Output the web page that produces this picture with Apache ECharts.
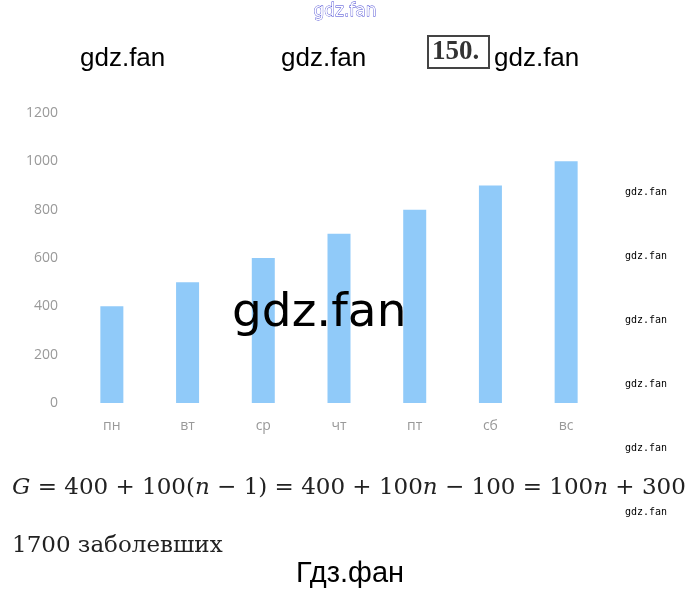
<!DOCTYPE html>
<html><head><meta charset="utf-8">
<script src="https://cdn.jsdelivr.net/npm/echarts@6/dist/echarts.min.js"></script>
<style>html,body{margin:0;padding:0;background:#fff}#c{width:692px;height:590px}</style>
</head><body><div id="c"></div>
<script>
var categories = ['пн','вт','ср','чт','пт','сб','вс'];
var values = [400, 500, 600, 700, 800, 900, 1000];
var yTicks = [0, 200, 400, 600, 800, 1000, 1200];

var chart = echarts.init(document.getElementById('c'), null, {renderer:'canvas'});
var sideMarks = [193, 257, 321, 385, 449, 513];
var graphics = [
  {type:'text', left:313, top:3, style:{text:'gdz.fan', font:'17px "DejaVu Sans"', fill:'#fff', stroke:'#3b3bd0', lineWidth:0.8}},
  {type:'text', left:80, top:46, style:{text:'gdz.fan', font:'26px "Liberation Sans"', fill:'#000'}},
  {type:'text', left:281, top:46, style:{text:'gdz.fan', font:'26px "Liberation Sans"', fill:'#000'}},
  {type:'rect', shape:{x:428, y:36, width:61, height:32}, style:{fill:'#fff', stroke:'#444', lineWidth:2}},
  {type:'text', left:432, top:39, style:{text:'150.', font:'bold 27px "Liberation Serif"', fill:'#333'}},
  {type:'text', left:494, top:46, style:{text:'gdz.fan', font:'26px "Liberation Sans"', fill:'#000'}},
  {type:'text', left:232, top:290, z:100, style:{text:'gdz.fan', font:'47px "DejaVu Sans"', fill:'#000'}},
  {type:'text', left:12, top:477, style:{
    text:'{i|G} = 400 + 100({i|n} − 1) = 400 + 100{i|n} − 100 = 100{i|n} + 300',
    font:'23px "DejaVu Serif"', fill:'#222',
    rich:{i:{fontStyle:'italic', fontFamily:'DejaVu Serif', fontSize:23, fill:'#222'}}}},
  {type:'text', left:12, top:535, style:{text:'1700 заболевших', font:'23px "DejaVu Serif"', fill:'#222'}},
  {type:'text', left:296, top:559, style:{text:'Гдз.фан', font:'29px "Liberation Sans"', fill:'#000'}}
];
sideMarks.forEach(function(y){
  graphics.push({type:'text', left:625, top:y-6, style:{text:'gdz.fan', font:'10px "DejaVu Sans Mono"', fill:'#000'}});
});

chart.setOption({
  animation:false,
  backgroundColor:'#fff',
  grid:{left:74, right:88, top:113, bottom:187},
  xAxis:{type:'category', data:categories,
    axisLine:{show:false}, axisTick:{show:false},
    axisLabel:{color:'#999', fontSize:14, fontFamily:'Open Sans', margin:16}},
  yAxis:{type:'value', min:0, max:1200, interval:200,
    axisLine:{show:false}, axisTick:{show:false},
    splitLine:{show:false},
    axisLabel:{color:'#999', fontSize:14, fontFamily:'Open Sans', margin:16,
      formatter:function(v){ return String(v); }}},
  series:[{type:'bar', data:values, barWidth:23, itemStyle:{color:'#90CAF9'}}],
  graphic:graphics
});
</script></body></html>
